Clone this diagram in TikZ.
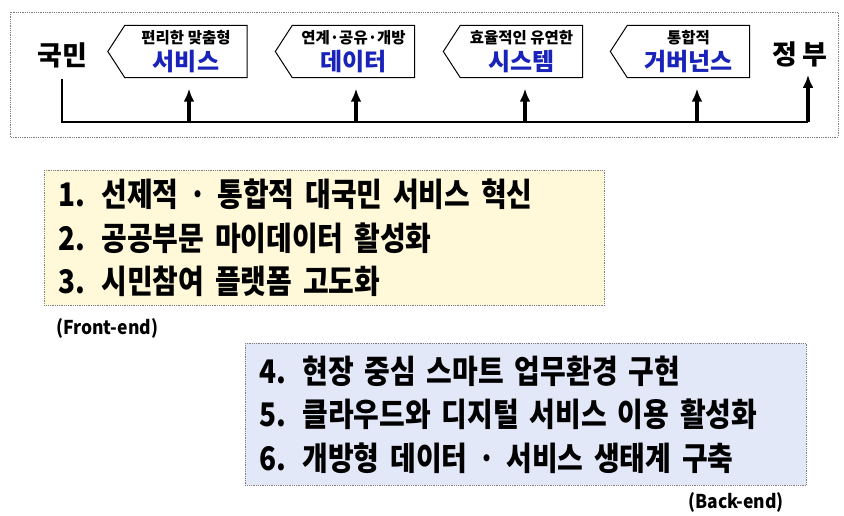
\documentclass[tikz,border=0pt]{standalone}
\usepackage{fontspec}
\newfontfamily\krfont{Noto Sans CJK KR}
\newfontfamily\krlist[FakeStretch=0.86,WordSpace=2.0]{Noto Sans CJK KR}
\newfontfamily\krnote[FakeStretch=0.92]{Noto Sans CJK KR}
\usepackage{xcolor}
\usepackage{tikz}
\usetikzlibrary{positioning,arrows.meta,calc}

\definecolor{tagblue}{RGB}{25,35,185}
\definecolor{frontfill}{RGB}{255,249,218}
\definecolor{backfill}{RGB}{227,232,248}
\definecolor{framegray}{RGB}{125,125,125}

\newcommand{\tagsmall}[1]{{\fontsize{15.5}{15.5}\selectfont #1}}
\newcommand{\tagbig}[1]{\textcolor{tagblue}{#1}}

\begin{document}
\begin{tikzpicture}[
  x=1pt, y=-1pt,
  every node/.style={inner sep=0pt},
  frame/.style  ={draw=framegray, densely dotted, line width=0.8pt},
  tag/.style    ={minimum width=122pt, minimum height=52pt, align=center,
                  font=\krfont\bfseries\fontsize{24}{24}\selectfont},
  tagline/.style={draw, line width=1pt},
  actor/.style  ={font=\krfont\bfseries\fontsize{27}{27}\selectfont},
  listbox/.style={frame, anchor=north west, align=left,
                  minimum height=135pt, inner xsep=14pt,
                  font=\krlist\bfseries\fontsize{32.5}{43.5}\selectfont},
  note/.style   ={font=\krnote\bfseries\fontsize{19}{19}\selectfont},
  bus/.style    ={line width=2.2pt},
  arr/.style    ={-{Latex[length=13pt,width=11pt]}, line width=3.2pt},
]
\useasboundingbox (0,0) rectangle (844,515);

%% ---- Top frame ---------------------------------------------------
\draw[frame] (10,12) rectangle (838,137);

%% ---- Actors ------------------------------------------------------
\node[actor] (kukmin)  at (62,55)  {국민};
\node[actor] (jeongbu) at (800,54) {정\,부};

%% ---- Tags --------------------------------------------------------
\node[tag] (service) at (186,51.5)   {\tagsmall{편리한 맞춤형}\\[3pt]\tagbig{서비스}};
\node[tag] (data)    at (353.5,51.5) {\tagsmall{연계·공유·개방}\\[3pt]\tagbig{데이터}};
\node[tag] (system)  at (521.5,51.5) {\tagsmall{효율적인 유연한}\\[3pt]\tagbig{시스템}};
\node[tag] (gov)     at (688.5,51.5) {\tagsmall{통합적}\\[3pt]\tagbig{거버넌스}};

\foreach \t in {service,data,system,gov}
  \draw[tagline] (\t.north west) -- (\t.north east) -- (\t.south east)
        -- (\t.south west) -- ([xshift=-17pt]\t.west) -- cycle;

%% ---- Bus and arrows ---------------------------------------------
\coordinate (busR) at (808,122);
\coordinate (a1) at (189,122);
\coordinate (a2) at (356,122);
\coordinate (a3) at (525,122);
\coordinate (a4) at (697,122);

\draw[bus, shorten <=11pt] (kukmin.south) |- (busR);
\draw[arr, shorten >=8pt] (busR) -- (busR |- jeongbu.south);
\draw[arr, shorten >=11pt] (a1) -- (a1 |- service.south);
\draw[arr, shorten >=11pt] (a2) -- (a2 |- data.south);
\draw[arr, shorten >=11pt] (a3) -- (a3 |- system.south);
\draw[arr, shorten >=11pt] (a4) -- (a4 |- gov.south);

%% ---- Front-end ---------------------------------------------------
\node[listbox, fill=frontfill, text width=532pt] (front) at (44,170)
     {1. 선제적 · 통합적 대국민 서비스 혁신\\
      2. 공공부문 마이데이터 활성화\\
      3. 시민참여 플랫폼 고도화};
\node[note, anchor=west] (frontnote) at (56,328) {(Front-end)};

%% ---- Back-end ----------------------------------------------------
\node[listbox, fill=backfill, text width=533pt, minimum height=142pt] (back) at (245,343)
     {4. 현장 중심 스마트 업무환경 구현\\
      5. 클라우드와 디지털 서비스 이용 활성화\\
      6. 개방형 데이터 · 서비스 생태계 구축};
\node[note, anchor=east] (backnote) at (784,502) {(Back-end)};

\end{tikzpicture}
\end{document}
